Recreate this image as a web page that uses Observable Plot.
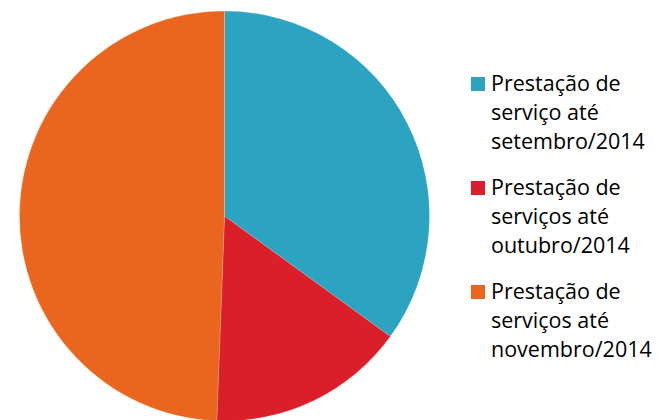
<!DOCTYPE html>
<html><head><meta charset="utf-8">
<script src="https://cdn.jsdelivr.net/npm/d3@7"></script>
<script src="https://cdn.jsdelivr.net/npm/@observablehq/plot@0.6"></script>
<style>
body{margin:0;background:#fff}
#chart{position:relative;width:657px;height:420px;font-family:"Open Sans",sans-serif;overflow:hidden}
#chart svg{position:absolute;left:0;top:0}
.sw{position:absolute;width:14px;height:14px}
.lab{position:absolute;white-space:pre;font-size:21.5px;line-height:29px;color:#000}
</style></head><body><div id="chart"></div>
<script>
const categories = [
  "Prestação de serviço até setembro/2014",
  "Prestação de serviços até outubro/2014",
  "Prestação de serviços até novembro/2014"
];
const legendLines = [
  ["Prestação de", "serviço até", "setembro/2014"],
  ["Prestação de", "serviços até", "outubro/2014"],
  ["Prestação de", "serviços até", "novembro/2014"]
];
const values = [35.0, 15.6, 49.4];
const colors = ["#2CA3C0", "#DA1F2A", "#EA661F"];

const data = categories.map((c, i) => ({category: c, value: values[i]}));
const color = Plot.scale({color: {domain: categories, range: colors}});

const W = 657, H = 420;
const cx = 224.5, cy = 216, R = 205;

const pieMark = () => {
  const arcs = d3.pie().sort(null).value(d => d.value)(data);
  const arc = d3.arc().innerRadius(0).outerRadius(R);
  const g = d3.create("svg:g").attr("transform", `translate(${cx},${cy})`);
  g.selectAll("path").data(arcs).join("path")
    .attr("d", arc)
    .attr("fill", d => color.apply(d.data.category))
    .attr("stroke", "#fff")
    .attr("stroke-opacity", 0.6)
    .attr("stroke-width", 0.3)
    .attr("stroke-linejoin", "round");
  return g.node();
};

const svg = Plot.plot({
  width: W, height: H, margin: 0,
  style: {background: "transparent", overflow: "visible"},
  marks: [pieMark]
});
const chart = document.getElementById("chart");
chart.appendChild(svg);

// legend
const firstBaseline = 91, groupGap = 104, lineH = 29;
categories.forEach((c, i) => {
  const base = firstBaseline + i * groupGap;
  const sw = document.createElement("div");
  sw.className = "sw";
  sw.style.left = "471px";
  sw.style.top = (base - 14) + "px";
  sw.style.background = color.apply(c);
  chart.appendChild(sw);
  const lab = document.createElement("div");
  lab.className = "lab";
  lab.style.left = "491px";
  lab.style.top = (base - 23) + "px";
  lab.textContent = legendLines[i].join("\n");
  chart.appendChild(lab);
});
</script></body></html>
